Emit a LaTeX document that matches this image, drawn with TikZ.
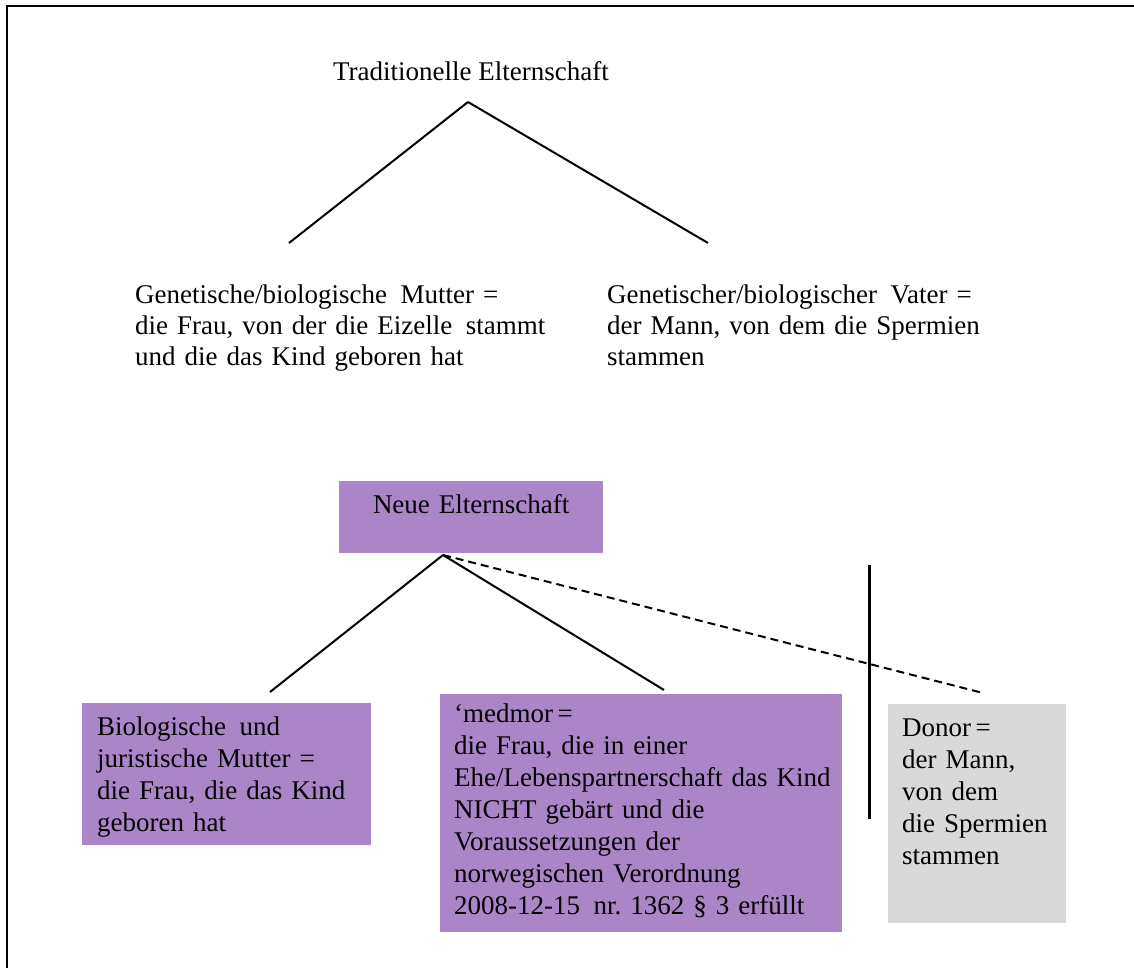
\documentclass[tikz,border=0pt]{standalone}
\usepackage{fontspec}
\setmainfont{Liberation Serif}
\frenchspacing
\definecolor{lila}{RGB}{170,134,200}
\definecolor{grau}{RGB}{217,217,217}
\begin{document}
\begin{tikzpicture}[x=1pt,y=-1pt,
    txt/.style={inner sep=0pt,align=left,font=\fontsize{27}{31}\selectfont},
    box/.style={anchor=north west,inner ysep=0pt,align=left,
      font=\fontsize{27}{32}\selectfont},
    link/.style={line width=2pt}]
  \useasboundingbox (0,0) rectangle (1134,968);
  \draw[line width=2pt] (7,968) -- (7,6) -- (1134,6);

  % traditionelle Elternschaft
  \draw
    (471,81) node[txt,anchor=base] (trad){Traditionelle Elternschaft}
    (135,303) node[txt,anchor=base west,text width=420] (mutter){Genetische/biologische\ \,Mutter =\\die Frau, von der die Eizelle\ \,stammt\\und die das Kind geboren hat}
    (607,303) node[txt,anchor=base west,text width=420] (vater){Genetischer/biologischer\ \,Vater =\\der Mann, von dem die Spermien\\stammen};
  \coordinate (tradtop) at (468,102);
  \coordinate (tradl) at (289,243);
  \coordinate (tradr) at (708,243);
  \begin{scope}[link]
    \draw (tradtop) to (tradl);
    \draw (tradtop) to (tradr);
  \end{scope}

  % neue Elternschaft
  \node[box,fill=lila,inner xsep=10pt,text width=244,align=center,
    text height=32,text depth=40] (neu) at (339,481) {Neue Elternschaft};
  \node[box,fill=lila,inner xsep=15pt,text width=259,
    text height=32,text depth=110] (bio) at (82,703)
    {Biologische\ \,und\\juristische Mutter =\\die Frau, die das Kind\\geboren hat};
  \node[box,fill=lila,inner xsep=14pt,text width=374,
    text height=28,text depth=210] (medmor) at (440,694)
    {‘medmor\,=\\die Frau, die in einer\\\mbox{Ehe/Lebenspartnerschaft das Kind}\\NICHT gebärt und die\\Voraussetzungen der\\norwegischen Verordnung\\2008-12-15\ \,nr. 1362 § 3 erfüllt};
  \node[box,fill=grau,inner xsep=14pt,text width=150,
    text height=32,text depth=187] (donor) at (888,704)
    {Donor\,=\\der Mann,\\von dem\\die Spermien\\stammen};
  \coordinate (neutop) at (443,555);
  \coordinate (neul) at (270,692);
  \coordinate (neur) at (664,690);
  \coordinate (neud) at (983,693);
  \coordinate (strichtop) at (869,565);
  \coordinate (strichbot) at (869,819);
  \begin{scope}[link]
    \draw (neutop) to (neul);
    \draw (neutop) to (neur);
    \draw[dash pattern=on 8pt off 5pt] (neutop) to (neud);
  \end{scope}
  \draw[line width=3pt] (strichtop) -- (strichbot);
\end{tikzpicture}
\end{document}
